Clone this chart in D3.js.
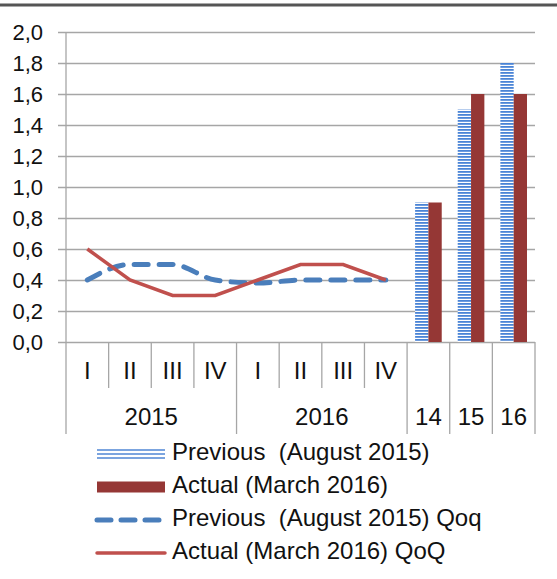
<!DOCTYPE html>
<html>
<head>
<meta charset="utf-8">
<script src="https://cdn.jsdelivr.net/npm/d3@7"></script>
<style>
  body { margin: 0; background: #fff; }
  text { font-family: "Liberation Sans", Arial, sans-serif; fill: #111; }
</style>
</head>
<body>
<div id="chart"></div>
<script>
// data
var quarters = ["I", "II", "III", "IV"];
var years = ["2015", "2016"];
var annual = ["14", "15", "16"];
var prevAnnual = [0.9, 1.5, 1.8];
var actAnnual = [0.9, 1.6, 1.6];
var prevQoQ = [0.4, 0.5, 0.5, 0.4, 0.38, 0.4, 0.4, 0.4];
var actQoQ = [0.6, 0.4, 0.3, 0.3, 0.4, 0.5, 0.5, 0.4];
var yTicks = [0, 0.2, 0.4, 0.6, 0.8, 1.0, 1.2, 1.4, 1.6, 1.8, 2.0];
var legendNames = ["Previous  (August 2015)", "Actual (March 2016)",
                   "Previous  (August 2015) Qoq", "Actual (March 2016) QoQ"];

var width = 557, height = 579;
var plotLeft = 66, plotRight = 535, plotTop = 32, plotBottom = 342;
var gridColor = "#a6a6a6";
var fs = 24;

var svg = d3.select("#chart")
  .append("svg")
    .attr("width", width)
    .attr("height", height);

// hatch pattern for previous bars
var pat = svg.append("defs").append("pattern")
    .attr("id", "hatch")
    .attr("patternUnits", "userSpaceOnUse")
    .attr("width", 6).attr("height", 3);
pat.append("rect").attr("width", 6).attr("height", 3).attr("fill", "#fff");
pat.append("rect").attr("width", 6).attr("height", 1.8).attr("fill", "#4a84d6");

// dark bar at top
svg.append("rect")
    .attr("x", 0).attr("y", 3.5)
    .attr("width", width).attr("height", 3)
    .attr("fill", "#555");

// categories
var cats = [];
years.forEach(function(yr) {
  quarters.forEach(function(q) { cats.push(yr + "-" + q); });
});
annual.forEach(function(a) { cats.push(a); });

var x = d3.scaleBand()
    .domain(cats)
    .range([plotLeft, plotRight])
    .padding(0);

var y = d3.scaleLinear()
    .domain([0, 2])
    .range([plotBottom, plotTop]);

// gridlines
svg.append("g")
    .attr("transform", "translate(58,0)")
    .call(d3.axisLeft(y).tickValues(yTicks).tickSize(-(plotRight - 58)).tickFormat(""))
    .call(function(g) {
      g.select(".domain").remove();
      g.selectAll("line").attr("stroke", gridColor).attr("stroke-width", 1.3);
    });

// y labels
svg.append("g")
    .attr("transform", "translate(58,0)")
    .call(d3.axisLeft(y).tickValues(yTicks).tickSize(0).tickPadding(15)
      .tickFormat(function(d) { return d3.format(".1f")(d).replace(".", ","); }))
    .call(function(g) {
      g.select(".domain").remove();
      g.selectAll("text")
        .attr("font-size", 22)
        .attr("font-family", "Liberation Sans, Arial, sans-serif")
        .attr("fill", "#111");
    });

// y axis line
svg.append("line")
    .attr("x1", plotLeft).attr("x2", plotLeft)
    .attr("y1", plotTop).attr("y2", 434)
    .attr("stroke", gridColor).attr("stroke-width", 1.3);

// category dividers
cats.forEach(function(c, i) {
  var xe = x(c) + x.bandwidth();
  var isQuarter = i < 8;
  var long = !isQuarter || (i % 4 === 3);
  svg.append("line")
    .attr("x1", xe).attr("x2", xe)
    .attr("y1", plotBottom).attr("y2", long ? 434 : 388)
    .attr("stroke", gridColor).attr("stroke-width", 1.3);
});

// quarter labels
cats.slice(0, 8).forEach(function(c, i) {
  svg.append("text")
    .attr("x", x(c) + x.bandwidth() / 2)
    .attr("y", 373)
    .attr("text-anchor", "middle")
    .attr("dominant-baseline", "middle")
    .attr("font-size", fs)
    .text(quarters[i % 4]);
});

// year labels
years.forEach(function(yr) {
  var x0 = x(yr + "-I"), x1 = x(yr + "-IV") + x.bandwidth();
  svg.append("text")
    .attr("x", (x0 + x1) / 2)
    .attr("y", 419)
    .attr("text-anchor", "middle")
    .attr("dominant-baseline", "middle")
    .attr("font-size", fs)
    .text(yr);
});
annual.forEach(function(a) {
  svg.append("text")
    .attr("x", x(a) + x.bandwidth() / 2)
    .attr("y", 419)
    .attr("text-anchor", "middle")
    .attr("dominant-baseline", "middle")
    .attr("font-size", fs)
    .text(a);
});

// bars
var xSub = d3.scaleBand()
    .domain(["prev", "act"])
    .range([8, x.bandwidth() - 8])
    .padding(0);

var barData = annual.map(function(a, i) {
  return {cat: a, vals: [{key: "prev", v: prevAnnual[i]}, {key: "act", v: actAnnual[i]}]};
});

svg.append("g")
  .selectAll("g")
  .data(barData)
  .enter()
  .append("g")
    .attr("transform", function(d) { return "translate(" + x(d.cat) + ",0)"; })
  .selectAll("rect")
  .data(function(d) { return d.vals; })
  .enter().append("rect")
    .attr("x", function(d) { return xSub(d.key); })
    .attr("y", function(d) { return y(d.v); })
    .attr("width", xSub.bandwidth())
    .attr("height", function(d) { return y(0) - y(d.v); })
    .attr("fill", function(d) { return d.key === "prev" ? "url(#hatch)" : "#953735"; });

// lines
var qx = function(d, i) { return x(cats[i]) + x.bandwidth() / 2; };

svg.append("path")
    .datum(prevQoQ)
    .attr("fill", "none")
    .attr("stroke", "#4a7ebb")
    .attr("stroke-width", 5)
    .attr("stroke-dasharray", "14,11")
    .attr("stroke-linecap", "round")
    .attr("d", d3.line().x(qx).y(function(d) { return y(d); }).curve(d3.curveMonotoneX));

svg.append("path")
    .datum(actQoQ)
    .attr("fill", "none")
    .attr("stroke", "#c0504d")
    .attr("stroke-width", 3.5)
    .attr("d", d3.line().x(qx).y(function(d) { return y(d); }));

// legend
var rowY = [454, 487, 520, 553];
var lg = svg.append("g");

[450, 454, 458].forEach(function(ly) {
  lg.append("line")
    .attr("x1", 97).attr("x2", 165)
    .attr("y1", ly).attr("y2", ly)
    .attr("stroke", "#4f86d4").attr("stroke-width", 1.3);
});
lg.append("rect")
    .attr("x", 97).attr("y", rowY[1] - 5.5)
    .attr("width", 68).attr("height", 11)
    .attr("fill", "#953735");
lg.append("line")
    .attr("x1", 97).attr("x2", 165)
    .attr("y1", rowY[2]).attr("y2", rowY[2])
    .attr("stroke", "#4a7ebb").attr("stroke-width", 5)
    .attr("stroke-dasharray", "14,10").attr("stroke-linecap", "round");
lg.append("line")
    .attr("x1", 97).attr("x2", 165)
    .attr("y1", rowY[3]).attr("y2", rowY[3])
    .attr("stroke", "#c0504d").attr("stroke-width", 3.5)
    .attr("stroke-linecap", "round");

legendNames.forEach(function(n, i) {
  lg.append("text")
    .attr("x", 172)
    .attr("y", rowY[i])
    .attr("dominant-baseline", "middle")
    .attr("font-size", fs)
    .style("white-space", "pre")
    .text(n);
});
</script>
</body>
</html>
